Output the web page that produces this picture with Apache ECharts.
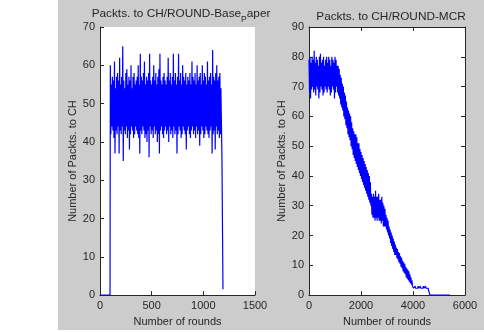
<!DOCTYPE html>
<html>
<head>
<meta charset="utf-8">
<script src="https://cdn.jsdelivr.net/npm/echarts@6/dist/echarts.min.js"></script>
<style>
  html, body { margin: 0; padding: 0; background: #fff; }
  #main { width: 484px; height: 332px; }
</style>
</head>
<body>
<div id="main"></div>
<script>
// left panel: Base paper, one hi / lo pair every 10 rounds from round 100
const leftStart = 100, leftStep = 10;
const leftHi = [
  60,55,57,56,61,54,57,58,56,62,
  55,57,65,56,54,58,59,55,57,56,
  60,54,57,58,55,56,57,60,55,63,
  57,56,58,61,55,57,56,58,63,56,
  55,57,60,56,58,55,57,59,63,56,
  55,57,58,56,55,57,62,56,58,55,
  57,63,56,58,55,57,63,56,58,55,
  60,57,56,58,55,57,56,58,55,61,
  57,56,58,55,60,56,57,58,55,60,
  56,58,57,55,61,56,57,58,55,64,
  57,56,58,60,56,57,58
];
const leftLo = [
  42,44,43,41,37,43,42,44,37,43,
  42,44,35,43,42,44,41,43,38,42,
  44,43,41,42,44,43,42,41,37,43,
  42,44,43,41,42,40,43,36,44,42,
  43,41,44,42,43,40,42,37,43,44,
  42,41,43,44,42,43,40,44,42,43,
  41,44,42,43,37,42,44,43,41,42,
  44,43,42,38,43,44,42,41,43,44,
  42,43,41,44,42,43,39,42,44,43,
  41,42,44,43,42,41,43,44,37,42,
  43,38,44,42,43,41,42
];
const leftHeadX = [0, 97], leftHeadY = [0, 0];
const leftTailX = [1170, 1180, 1190], leftTailY = [54, 36, 1.5];

// right panel: MCR, one hi / lo pair every 40 rounds from round 0
const rightStart = 0, rightStep = 40;
const rightHi = [
  79,80,78,80,79,82,78,80,79,77,
  80,81,78,79,80,77,79,80,78,80,
  79,77,80,79,78,80,79,77,
  77,76,74,73,71,70,68,67,65,63,
  62,61,60,58,56,55,54,54,53,51,
  51,49,48,47,46,45,44,43,42,41,
  40,38,34,33,34,33,35,33,33,34,
  32,32,33,31,30,29,27,26,25,23,
  22,21,20,19,18,17,16,15.5,14.5,14,
  13,12.5,11.5,11,10.5,9.5,9,8.5,8,7,
  6,5,3,
  2.3,3,2.3,2.3,3,2.3,3,2.3,2.3,3,2.3,3,2.3,2.3,2.3
];
const rightLo = [
  68,66,69,70,68,69,67,70,69,66,
  68,70,69,67,68,70,69,68,70,69,
  67,68,70,69,66,68,70,68,
  67,66,64,63,62,60,59,57,56,54,
  53,52,50,49,47,46,45,44,43,42,
  41,40,39,38,37,36,35,34,33,32,
  31,30,27,26,26,25,26,25,26,25,
  25,24,25,23,23,23,22,21,20,19,
  17.5,16.5,15.5,14.5,13.5,13.5,12.5,12,11,10.5,
  9.5,9,8,7.5,7,6,5.5,5,4.5,4,
  3.5,3,2.3,
  2.3,2.3,2.3,2.3,2.3,2.3,2.3,2.3,2.3,2.3,2.3,2.3,2.3,2.3,2.3
];
const rightTailX = [4650, 4650, 5420], rightTailY = [2.3, 0, 0];

const leftXTicks = [0, 1500, 500];   // min, max, interval
const leftYTicks = [0, 70, 10];
const rightXTicks = [0, 6000, 2000];
const rightYTicks = [0, 90, 10];

const pairs = (xs, ys) => xs.map((x, i) => [x, ys[i]]);
const band = (start, step, hi, lo) => {
  let out = [];
  hi.forEach((h, i) => {
    out.push([start + step * i, h]);
    out.push([start + step * i + step / 2, lo[i]]);
  });
  return out;
};

const leftData = pairs(leftHeadX, leftHeadY)
  .concat(band(leftStart, leftStep, leftHi, leftLo))
  .concat(pairs(leftTailX, leftTailY));
const rightData = band(rightStart, rightStep, rightHi, rightLo)
  .concat(pairs(rightTailX, rightTailY));

const FONT = "'Liberation Sans', Arial, sans-serif";
const AX = "#262626";

const axisBase = (gi, t, pos, showLabel, extra) => Object.assign({
  type: "value",
  gridIndex: gi,
  min: t[0], max: t[1], interval: t[2],
  position: pos,
  axisLine: { show: true, onZero: false, lineStyle: { color: AX, width: 1 } },
  axisTick: { show: true, inside: true, length: 4, lineStyle: { color: AX } },
  axisLabel: { show: showLabel, color: AX, fontSize: 11, fontFamily: FONT, margin: 5,
    formatter: (v) => String(v) },
  splitLine: { show: false },
}, extra || {});

const xName = { name: "Number of rounds", nameLocation: "middle", nameGap: 16,
  nameTextStyle: { color: AX, fontSize: 11, fontFamily: FONT } };
const yName = { name: "Number of Packts. to CH", nameLocation: "middle", nameGap: 20,
  nameTextStyle: { color: AX, fontSize: 11, fontFamily: FONT } };

let myChart = echarts.init(document.getElementById("main"));
let option = {
  backgroundColor: "#cccccc",
  animation: false,
  graphic: [
    { type: "rect", z: -10, shape: { x: 0, y: 0, width: 58, height: 332 }, style: { fill: "#fff" } },
    { type: "rect", z: -10, shape: { x: 0, y: 330, width: 484, height: 2 }, style: { fill: "#fff" } },
  ],
  title: [
    {
      text: "{a|Packts. to CH/ROUND-Base}{s|P}{a|aper}",
      left: 176, top: 3, textAlign: "center",
      textStyle: {
        fontWeight: "normal",
        rich: {
          a: { color: AX, fontSize: 11.8, fontWeight: "normal", fontFamily: FONT, padding: [0, 0, 4, 0], verticalAlign: "bottom" },
          s: { color: AX, fontSize: 8.5, fontWeight: "normal", fontFamily: FONT, verticalAlign: "bottom" },
        },
      },
    },
    {
      text: "Packts. to CH/ROUND-MCR",
      left: 386, top: 6, textAlign: "center",
      textStyle: { color: AX, fontSize: 11.8, fontWeight: "normal", fontFamily: FONT },
    },
  ],
  grid: [
    { left: 100, top: 27, width: 155, height: 273, show: true, backgroundColor: "#fff", borderWidth: 0 },
    { left: 309, top: 27, width: 156, height: 273, show: true, backgroundColor: "#fff", borderWidth: 0 },
  ],
  xAxis: [
    axisBase(0, leftXTicks, "bottom", true, xName),
    axisBase(1, rightXTicks, "bottom", true, xName),
    axisBase(1, rightXTicks, "top", false),
  ],
  yAxis: [
    axisBase(0, leftYTicks, "left", true, yName),
    axisBase(1, rightYTicks, "left", true, yName),
    axisBase(1, rightYTicks, "right", false),
  ],
  series: [
    {
      type: "line", xAxisIndex: 0, yAxisIndex: 0,
      data: leftData, showSymbol: false, symbol: "none",
      lineStyle: { color: "#0000ff", width: 1.2 }, z: 3,
    },
    {
      type: "line", xAxisIndex: 1, yAxisIndex: 1,
      data: rightData, showSymbol: false, symbol: "none",
      lineStyle: { color: "#0000ff", width: 1.2 }, z: 3,
    },
  ],
};
myChart.setOption(option);
</script>
</body>
</html>
